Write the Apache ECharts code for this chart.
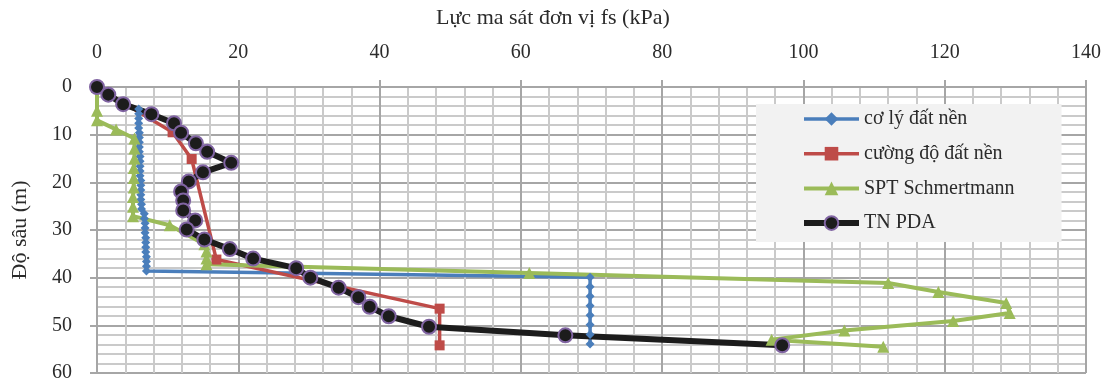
<!DOCTYPE html>
<html>
<head>
<meta charset="utf-8">
<script src="https://cdn.jsdelivr.net/npm/echarts@6/dist/echarts.min.js"></script>
<style>
  html, body { margin: 0; padding: 0; background: #ffffff; }
  #chart { width: 1105px; height: 382px; }
</style>
</head>
<body>
<div id="chart"></div>
<script>
// Unit shaft friction fs (kPa) against depth (m) for four methods
const seriesNames = ['cơ lý đất nền', 'cường độ đất nền', 'SPT Schmertmann', 'TN PDA'];

const xTicks = [0, 20, 40, 60, 80, 100, 120, 140];
const yTicks = [0, 10, 20, 30, 40, 50, 60];

// cơ lý đất nền
const coLyDepth = [4.6, 5.6, 6.6, 7.6, 8.6, 9.6, 10.6, 11.6, 12.6, 13.6, 14.6, 15.6, 16.6, 17.6, 18.6,
  19.6, 20.6, 21.6, 22.6, 23.6, 24.6, 25.6, 26.6, 27.6, 28.6, 29.6, 30.6, 31.6, 32.6, 33.6, 34.6,
  35.6, 36.6, 37.6, 38.6, 39.9, 41.9, 43.9, 45.9, 47.9, 49.9, 51.9, 53.9];
const coLyFs = [5.9, 5.9, 5.9, 5.9, 5.9, 6.0, 6.0, 6.0, 6.0, 6.0, 6.1, 6.1, 6.1, 6.1, 6.1,
  6.2, 6.2, 6.2, 6.2, 6.2, 6.3, 6.3, 6.7, 6.7, 6.8, 6.8, 6.8, 6.9, 6.9, 6.9, 6.9,
  7.0, 7.0, 7.0, 7.0, 69.8, 69.8, 69.8, 69.8, 69.8, 69.8, 69.8, 69.8];

// cường độ đất nền
const cuongDoDepth = [0, 9.5, 15.1, 36.2, 46.5, 54.2];
const cuongDoFs = [0, 10.7, 13.4, 16.9, 48.5, 48.5];

// SPT Schmertmann
const sptDepth = [0, 5, 7, 8.9, 10.8, 12.9, 15.0, 17.0, 19.1, 21.1, 23.1, 25.1, 27.1,
  29, 33, 34.5, 36, 37.2, 39, 41.1, 43, 45.3, 47.4, 49.1, 51.1, 53, 54.5];
const sptFs = [0, 0, 0, 2.7, 5.3, 5.3, 5.3, 5.2, 5.2, 5.2, 5.1, 5.1, 5.1,
  10.3, 15.2, 15.5, 15.5, 15.5, 61.2, 112, 119.1, 128.7, 129.2, 121.2, 105.8, 95.5, 111.3];

// TN PDA
const pdaDepth = [0, 1.6, 3.6, 5.7, 7.6, 9.6, 11.8, 13.6, 15.9, 17.9, 19.8, 21.9, 23.8, 25.9,
  28.0, 29.9, 32.0, 34.0, 36.0, 38.0, 40.0, 42.1, 44.1, 46.1, 48.1, 50.3, 52.1, 54.2];
const pdaFs = [0, 1.6, 3.7, 7.7, 10.9, 11.9, 14.0, 15.6, 19.0, 15.0, 13.0, 11.9, 12.2, 12.2,
  13.9, 12.7, 15.2, 18.8, 22.1, 28.2, 30.2, 34.2, 37.0, 38.6, 41.3, 47.0, 66.3, 97.0];

const pairs = (fs, depth) => fs.map((v, i) => [v, depth[i]]);

const FONT = 'Liberation Serif';
const TEXT = '#2b2b2b';
const MAJOR = '#a6a6a6';
const MINOR = '#cacaca';

const BLUE = '#4a7ebb';
const RED = '#be4b48';
const GREEN = '#9bbb59';
const BLACK = '#1c1c1c';
const PURPLE = '#8064a2';

const chart = echarts.init(document.getElementById('chart'), null, { renderer: 'canvas' });

chart.setOption({
  animation: false,
  backgroundColor: '#ffffff',
  textStyle: { fontFamily: FONT },
  grid: { left: 97, top: 87, width: 989, height: 286, containLabel: false, outerBoundsMode: 'none' },
  graphic: [{
    type: 'text',
    left: 436,
    top: 7,
    style: { text: 'Lực ma sát đơn vị fs (kPa)', font: '22px "Liberation Serif"', fill: TEXT }
  }],
  legend: {
    orient: 'vertical',
    left: 756,
    top: 104,
    padding: [5, 47, 9, 45],
    backgroundColor: '#f2f2f2',
    itemWidth: 55,
    itemHeight: 17,
    itemGap: 14.7,
    lineStyle: { width: 'inherit' },
    textStyle: { fontFamily: FONT, fontSize: 20, color: TEXT, lineHeight: 20 },
    data: seriesNames
  },
  xAxis: {
    type: 'value',
    position: 'top',
    min: 0,
    max: 140,
    interval: 20,
    axisLine: { show: true, lineStyle: { color: MAJOR, width: 2 } },
    axisTick: { show: true, length: 7, lineStyle: { color: MAJOR, width: 2 } },
    axisLabel: {
      margin: 24, fontFamily: FONT, fontSize: 20, color: TEXT,
      showMinLabel: true, showMaxLabel: true,
      formatter: v => xTicks.includes(v) ? String(v) : ''
    },
    splitLine: { show: true, lineStyle: { color: MAJOR, width: 2 } },
    minorTick: { show: false, splitNumber: 5 },
    minorSplitLine: { show: true, lineStyle: { color: MINOR, width: 2 } }
  },
  yAxis: {
    type: 'value',
    inverse: true,
    min: 0,
    max: 60,
    interval: 10,
    name: 'Độ sâu (m)',
    nameLocation: 'middle',
    nameGap: 66,
    nameRotate: 90,
    nameTextStyle: { fontFamily: FONT, fontSize: 22, color: TEXT },
    axisLine: { show: true, lineStyle: { color: MAJOR, width: 2 } },
    axisTick: { show: true, length: 7, lineStyle: { color: MAJOR, width: 2 } },
    axisLabel: {
      margin: 25, fontFamily: FONT, fontSize: 20, color: TEXT,
      showMinLabel: true, showMaxLabel: true,
      formatter: v => yTicks.includes(v) ? String(v) : ''
    },
    splitLine: { show: true, lineStyle: { color: MAJOR, width: 2 } },
    minorTick: { show: false, splitNumber: 5 },
    minorSplitLine: { show: true, lineStyle: { color: MINOR, width: 2 } }
  },
  series: [
    {
      name: seriesNames[0],
      type: 'line',
      data: pairs(coLyFs, coLyDepth),
      color: BLUE,
      lineStyle: { color: BLUE, width: 3.5 },
      symbol: 'diamond',
      symbolSize: 9,
      itemStyle: { color: BLUE }
    },
    {
      name: seriesNames[1],
      type: 'line',
      data: pairs(cuongDoFs, cuongDoDepth),
      color: RED,
      lineStyle: { color: RED, width: 3.5 },
      symbol: 'rect',
      symbolSize: 10,
      itemStyle: { color: RED }
    },
    {
      name: seriesNames[2],
      type: 'line',
      data: pairs(sptFs, sptDepth),
      color: GREEN,
      lineStyle: { color: GREEN, width: 4 },
      symbol: 'triangle',
      symbolSize: 12,
      itemStyle: { color: GREEN }
    },
    {
      name: seriesNames[3],
      type: 'line',
      data: pairs(pdaFs, pdaDepth),
      color: BLACK,
      lineStyle: { color: BLACK, width: 6 },
      symbol: 'circle',
      symbolSize: 14,
      itemStyle: { color: BLACK, borderColor: PURPLE, borderWidth: 2 }
    }
  ]
});
</script>
</body>
</html>
